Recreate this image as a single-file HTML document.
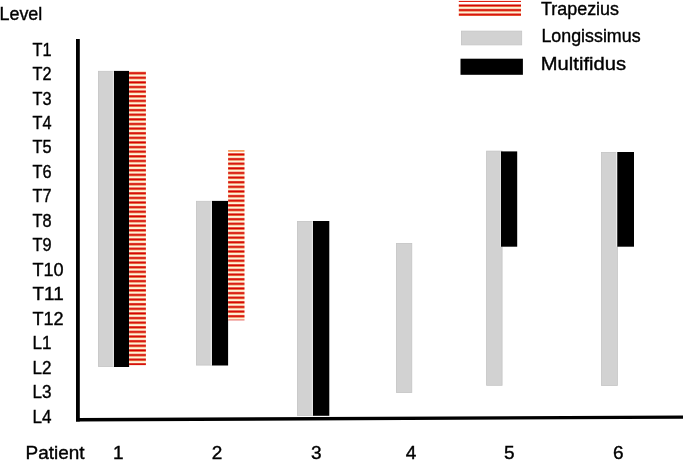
<!DOCTYPE html>
<html><head><meta charset="utf-8"><style>
html,body{margin:0;padding:0;background:#fff;width:685px;height:461px;overflow:hidden}
svg{display:block;will-change:transform}
text{font-family:"Liberation Sans", sans-serif;fill:#000;stroke:#000;stroke-width:0.4px}
</style></head><body>
<svg width="685" height="461" viewBox="0 0 685 461">
<defs><pattern id="st" patternUnits="userSpaceOnUse" width="40" height="4.621" y="71.85">
<rect width="40" height="4.621" fill="#fff5dc"/>
<rect y="-0.05" width="40" height="0.35" fill="#f59a30"/>
<rect y="0.3" width="40" height="2.15" fill="#d40000"/>
<rect y="2.45" width="40" height="0.35" fill="#f59a30"/>
</pattern><pattern id="st2" patternUnits="userSpaceOnUse" width="40" height="4.6" y="4.2">
<rect width="40" height="4.6" fill="#fff5dc"/>
<rect y="-0.05" width="40" height="0.35" fill="#f59a30"/>
<rect y="0.3" width="40" height="2.15" fill="#d40000"/>
<rect y="2.45" width="40" height="0.35" fill="#f59a30"/>
</pattern><pattern id="st3" patternUnits="userSpaceOnUse" width="40" height="4.62" y="153.2">
<rect width="40" height="4.62" fill="#fff5dc"/>
<rect y="-0.05" width="40" height="0.35" fill="#f59a30"/>
<rect y="0.3" width="40" height="2.15" fill="#d40000"/>
<rect y="2.45" width="40" height="0.35" fill="#f59a30"/>
</pattern></defs>
<text x="-0.5" y="20" font-size="19" textLength="42.8" lengthAdjust="spacingAndGlyphs">Level</text>
<text x="32.5" y="55.6" font-size="19" textLength="19" lengthAdjust="spacingAndGlyphs">T1</text>
<text x="32.5" y="80.06" font-size="19" textLength="19" lengthAdjust="spacingAndGlyphs">T2</text>
<text x="32.5" y="104.52" font-size="19" textLength="19" lengthAdjust="spacingAndGlyphs">T3</text>
<text x="32.5" y="128.98" font-size="19" textLength="19" lengthAdjust="spacingAndGlyphs">T4</text>
<text x="32.5" y="153.44" font-size="19" textLength="19" lengthAdjust="spacingAndGlyphs">T5</text>
<text x="32.5" y="177.9" font-size="19" textLength="19" lengthAdjust="spacingAndGlyphs">T6</text>
<text x="32.5" y="202.36" font-size="19" textLength="19" lengthAdjust="spacingAndGlyphs">T7</text>
<text x="32.5" y="226.82" font-size="19" textLength="19" lengthAdjust="spacingAndGlyphs">T8</text>
<text x="32.5" y="251.28" font-size="19" textLength="19" lengthAdjust="spacingAndGlyphs">T9</text>
<text x="32.5" y="275.74" font-size="19" textLength="31.2" lengthAdjust="spacingAndGlyphs">T10</text>
<text x="32.5" y="300.2" font-size="19" textLength="31.2" lengthAdjust="spacingAndGlyphs">T11</text>
<text x="32.5" y="324.66" font-size="19" textLength="31.2" lengthAdjust="spacingAndGlyphs">T12</text>
<text x="32.5" y="349.12" font-size="19" textLength="19" lengthAdjust="spacingAndGlyphs">L1</text>
<text x="32.5" y="373.58" font-size="19" textLength="19" lengthAdjust="spacingAndGlyphs">L2</text>
<text x="32.5" y="398.04" font-size="19" textLength="19" lengthAdjust="spacingAndGlyphs">L3</text>
<text x="32.5" y="422.5" font-size="19" textLength="19" lengthAdjust="spacingAndGlyphs">L4</text>
<rect x="76" y="39" width="3.8" height="382.5" fill="#000"/>
<polygon points="76,417.9 683,415.5 683,418.8 76,421.4" fill="#000"/>
<rect x="98.4" y="71.3" width="15.2" height="295.2" fill="#d2d2d2" stroke="#c5c5c5" stroke-width="0.8"/>
<rect x="112.8" y="71.3" width="1.2" height="295.2" fill="#e6e6e6"/>
<rect x="114" y="70.9" width="15.1" height="296.1" fill="#000"/>
<rect x="129.1" y="71" width="16.8" height="294.2" fill="url(#st)"/>
<rect x="196.4" y="201.3" width="15.3" height="163.8" fill="#d2d2d2" stroke="#c5c5c5" stroke-width="0.8"/>
<rect x="210.6" y="201.3" width="1.5" height="163.8" fill="#e6e6e6"/>
<rect x="212.0" y="200.9" width="16.1" height="164.6" fill="#000"/>
<rect x="228.1" y="150" width="16.4" height="1.8" fill="#f5a060"/>
<rect x="228.1" y="152.6" width="16.4" height="167.7" fill="url(#st3)"/>
<rect x="297.4" y="221.4" width="15.2" height="194.0" fill="#d2d2d2" stroke="#c5c5c5" stroke-width="0.8"/>
<rect x="311.8" y="221.4" width="1.2" height="194.0" fill="#e6e6e6"/>
<rect x="313" y="221" width="16.3" height="194.8" fill="#000"/>
<rect x="396.4" y="243.4" width="15.4" height="149.1" fill="#d2d2d2" stroke="#c5c5c5" stroke-width="0.8"/>
<rect x="486.6" y="151.1" width="15.5" height="234.2" fill="#d2d2d2" stroke="#c5c5c5" stroke-width="0.8"/>
<rect x="500.3" y="151.4" width="0.7" height="95.3" fill="#e8e8e8"/>
<rect x="501" y="151.4" width="16.2" height="95.3" fill="#000"/>
<rect x="601.5" y="152.4" width="15.9" height="233.1" fill="#d2d2d2" stroke="#c5c5c5" stroke-width="0.8"/>
<rect x="616.1" y="152" width="1.2" height="94.7" fill="#f0f0f0"/>
<rect x="617.3" y="152" width="16.7" height="94.7" fill="#000"/>
<rect x="458.8" y="0.9" width="62.2" height="1.1" fill="#e02010"/>
<rect x="458.8" y="4.2" width="62.2" height="11.8" fill="url(#st2)"/>
<rect x="461.4" y="31.1" width="60.3" height="13.8" fill="#d2d2d2" stroke="#c5c5c5" stroke-width="0.8"/>
<rect x="460.5" y="58.7" width="62.4" height="16.1" fill="#000"/>
<text x="541" y="15" font-size="19" textLength="78" lengthAdjust="spacingAndGlyphs">Trapezius</text>
<text x="541.4" y="42.3" font-size="19" textLength="99.2" lengthAdjust="spacingAndGlyphs">Longissimus</text>
<text x="540.8" y="70.2" font-size="19" textLength="85.2" lengthAdjust="spacingAndGlyphs">Multifidus</text>
<text x="25.5" y="458.7" font-size="19" textLength="59" lengthAdjust="spacingAndGlyphs">Patient</text>
<text x="118.3" y="458.7" font-size="19" text-anchor="middle">1</text>
<text x="217" y="458.7" font-size="19" text-anchor="middle">2</text>
<text x="316.4" y="458.7" font-size="19" text-anchor="middle">3</text>
<text x="411" y="458.7" font-size="19" text-anchor="middle">4</text>
<text x="509.4" y="458.7" font-size="19" text-anchor="middle">5</text>
<text x="618.2" y="458.7" font-size="19" text-anchor="middle">6</text>
</svg>
</body></html>
